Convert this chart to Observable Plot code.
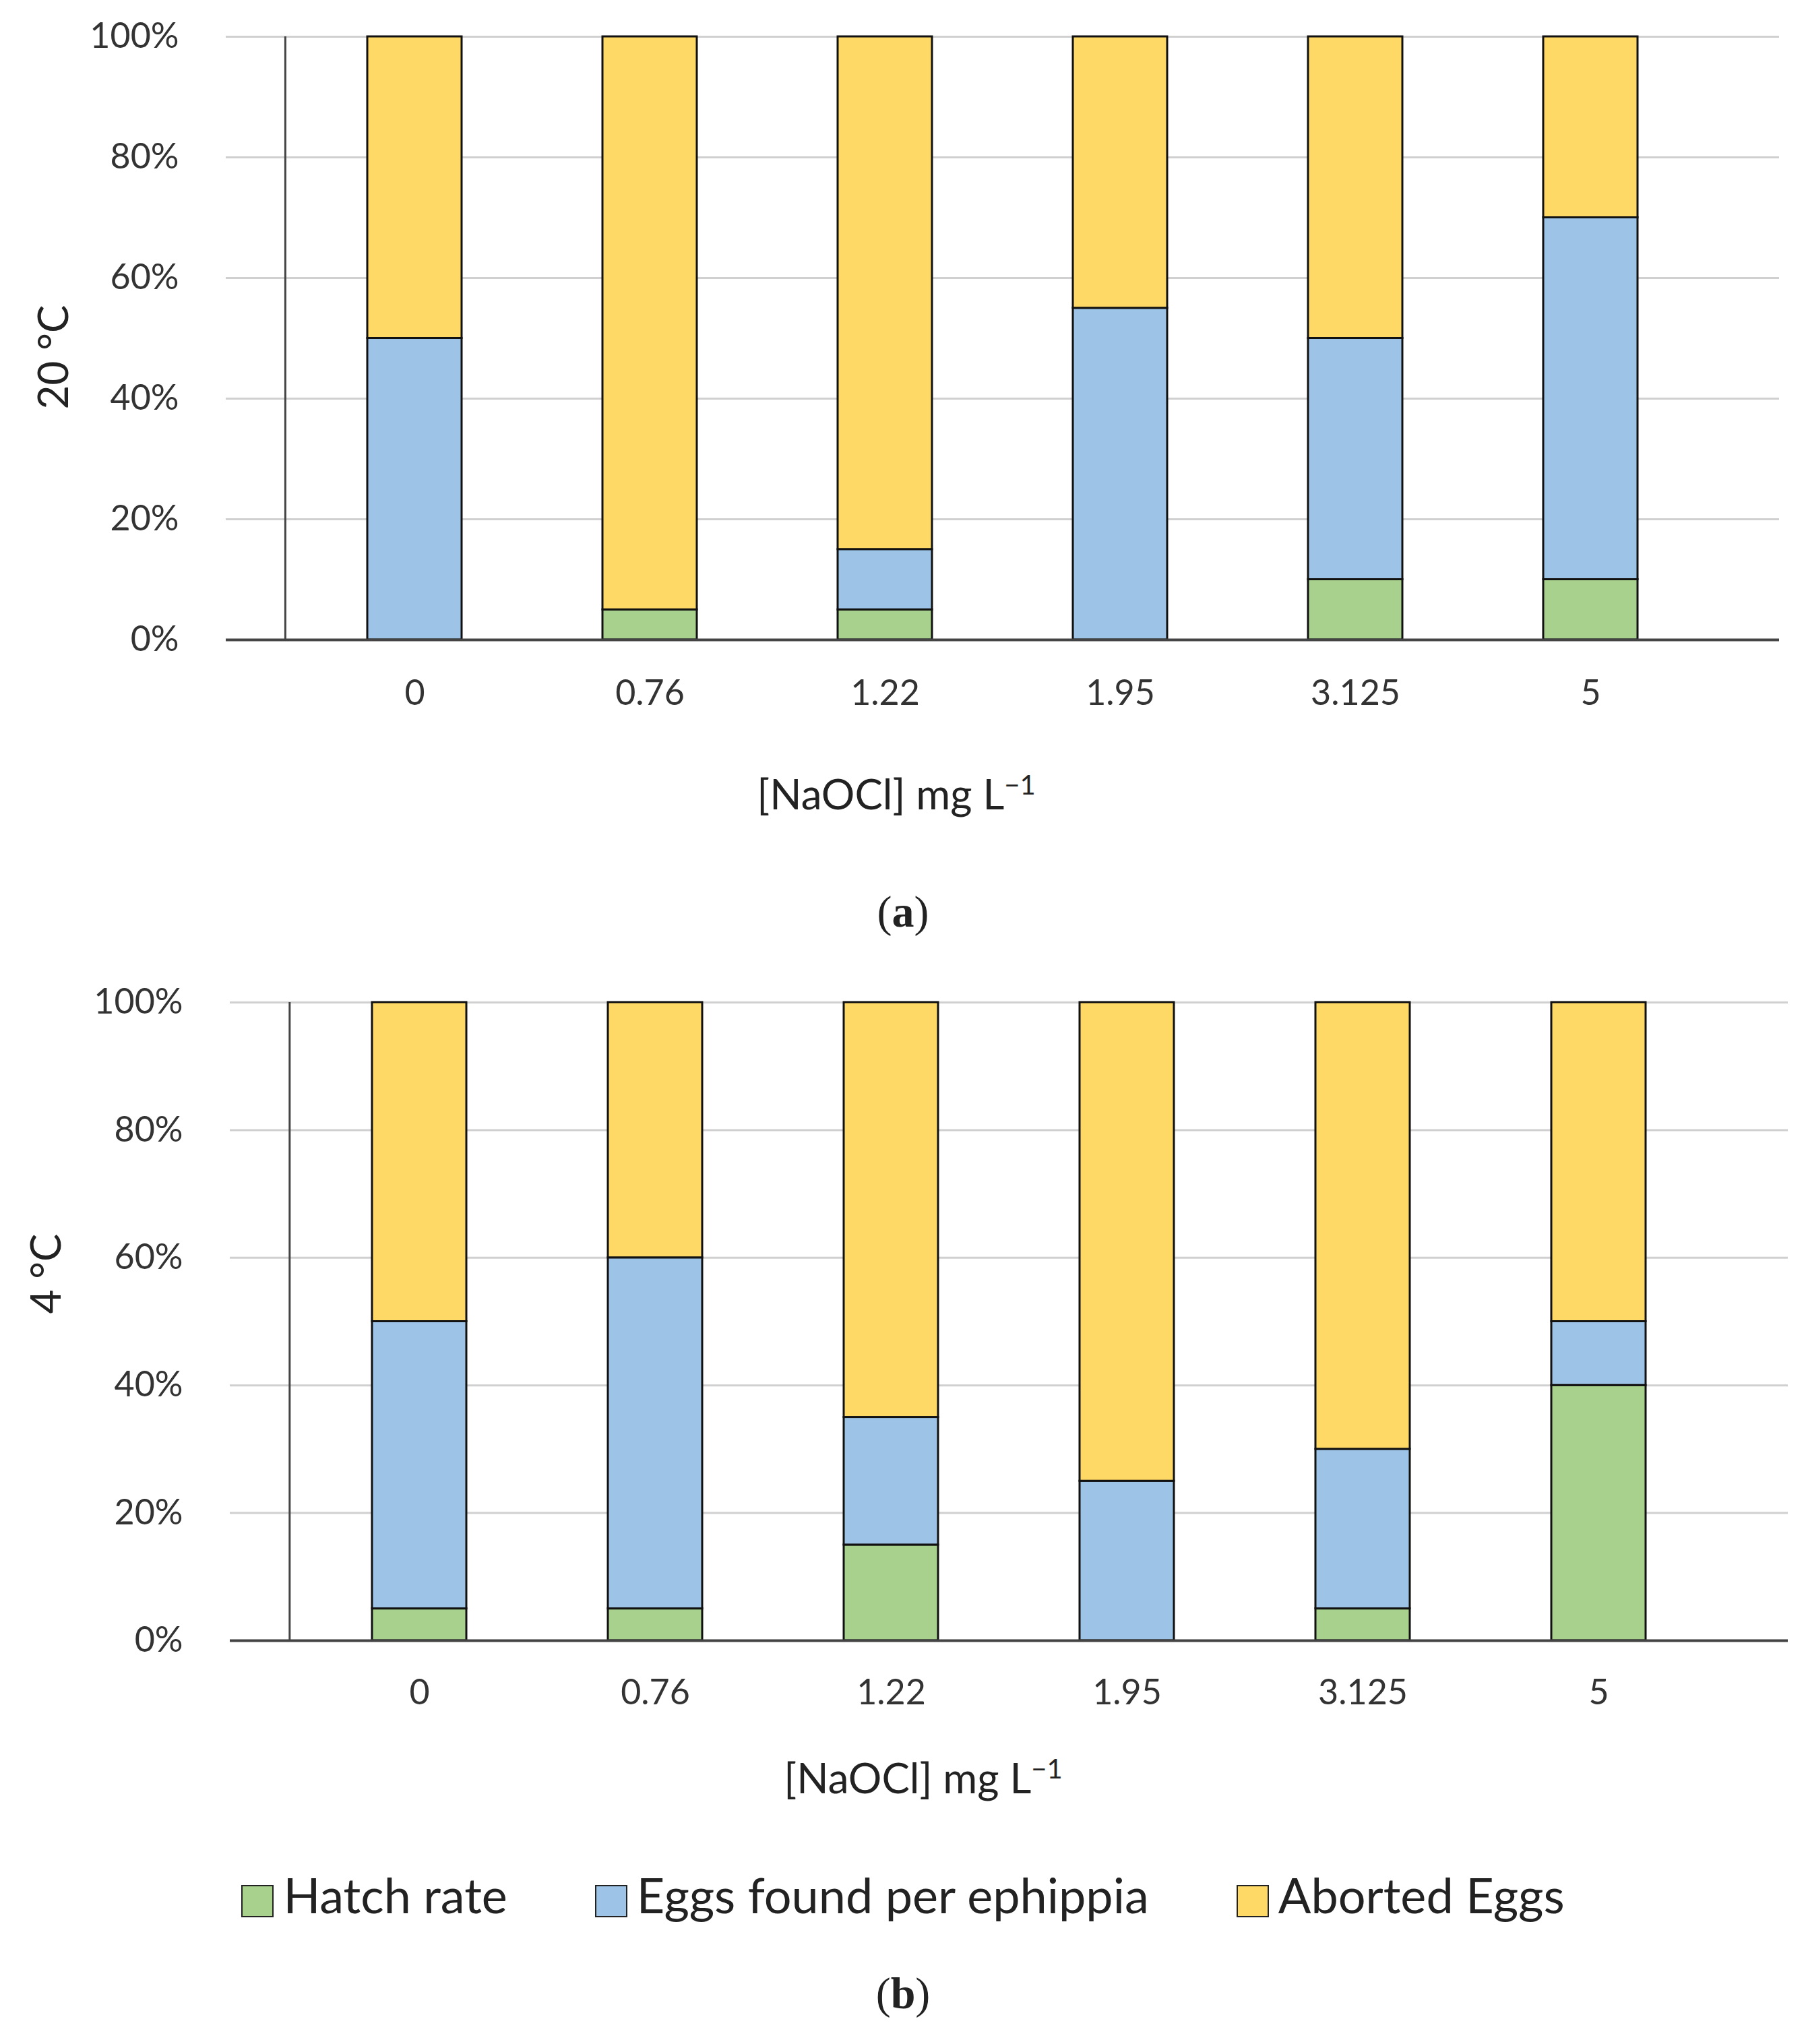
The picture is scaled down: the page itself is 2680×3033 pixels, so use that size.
<!DOCTYPE html>
<html><head><meta charset="utf-8">
<script src="https://cdn.jsdelivr.net/npm/d3@7"></script>
<script src="https://cdn.jsdelivr.net/npm/@observablehq/plot@0.6"></script>
<style>
body{margin:0;background:#fff;}
#wrap{position:relative;width:2680px;height:3033px;font-family:Lato,"Open Sans",sans-serif;color:#222;}
.abs{position:absolute;}
.ttl{font-size:62px;width:2680px;text-align:center;}
.cap{font-family:"Liberation Serif",serif;font-size:66px;width:2680px;text-align:center;}
.sw{display:inline-block;width:44px;height:44px;border:2px solid #222;vertical-align:middle;margin-right:14px;}
</style></head><body>
<div id="wrap"></div>
<script>
const concentrations = ["0","0.76","1.22","1.95","3.125","5"];
const series = ["Hatch rate","Eggs found per ephippia","Aborted Eggs"];
const colors = ["#a9d18e","#9dc3e6","#ffd966"];
const hatchA = [0,5,5,0,10,10];
const eggsA = [50,0,10,55,40,60];
const hatchB = [5,5,15,0,5,40];
const eggsB = [45,55,20,25,25,10];
const yTicks = [0,20,40,60,80,100];

function rows(h,e){
  const r=[];
  concentrations.forEach((c,i)=>{
    r.push({c,s:series[0],v:h[i]});
    r.push({c,s:series[1],v:e[i]});
    r.push({c,s:series[2],v:100-h[i]-e[i]});
  });
  return r;
}
function chart(data,opt){
  return Plot.plot({
    width:2680,height:opt.height,marginLeft:opt.left,marginRight:opt.right,marginTop:opt.top,marginBottom:opt.bottom,
    style:{fontFamily:"Lato, 'Open Sans', sans-serif",fontSize:"52px",color:"#333",background:"#fff"},
    x:{domain:concentrations,padding:0.6,label:null,tickSize:0,tickPadding:opt.xpad},
    y:{domain:[0,100],ticks:yTicks,tickFormat:d=>d+"%",label:null,tickSize:0,tickPadding:70},
    color:{domain:series,range:colors},
    marks:[
      Plot.gridY(yTicks,{stroke:"#d0d0d0",strokeOpacity:1,strokeWidth:3}),
      Plot.ruleX([concentrations[0]],{stroke:"#444",strokeWidth:3,dx:-(opt.step/2),y1:0,y2:100}),
      Plot.barY(data,{x:"c",y:"v",fill:"s",stroke:"#111",strokeWidth:3,order:series}),
      Plot.ruleY([0],{stroke:"#444",strokeWidth:4})
    ]
  });
}
const wrap=document.getElementById("wrap");
function place(el,top){el.classList.add("abs");el.style.top=top+"px";el.style.left="0px";wrap.appendChild(el);}
const stepA=(2640-335)/6, stepB=(2653-341)/6;
place(chart(rows(hatchA,eggsA),{height:1100,left:335,right:40,top:54,bottom:151,xpad:60,step:stepA}),0);
place(chart(rows(hatchB,eggsB),{height:1150,left:341,right:27,top:87,bottom:116,xpad:58,step:stepB}),1400);
function txt(html,cls,top,extra){const d=document.createElement("div");d.className="abs "+cls;d.style.top=top+"px";d.innerHTML=html;if(extra)Object.assign(d.style,extra);wrap.appendChild(d);return d;}
txt("[NaOCl] mg L<sup style='font-size:40px'>−1</sup>","ttl",1140,{left:"-10px"});
txt("(<b>a</b>)","cap",1315);
txt("[NaOCl] mg L<sup style='font-size:40px'>−1</sup>","ttl",2600,{left:"30px"});
txt("(<b>b</b>)","cap",2920);
function rot(t,cx,cy){const d=document.createElement("div");d.className="abs";d.textContent=t;Object.assign(d.style,{fontSize:"62px",left:cx+"px",top:cy+"px",transform:"translate(-50%,-50%) rotate(-90deg)",whiteSpace:"nowrap"});wrap.appendChild(d);}
rot("20 °C",77,530);rot("4 °C",66,1890);
const lg=document.createElement("div");lg.className="abs";
Object.assign(lg.style,{top:"2768px",left:"0",width:"2680px",textAlign:"center",fontSize:"72px"});
lg.innerHTML=series.map((s,i)=>`<span style="margin:0 65px"><span class="sw" style="background:${colors[i]}"></span>${s}</span>`).join("");
wrap.appendChild(lg);
</script>
</body></html>
